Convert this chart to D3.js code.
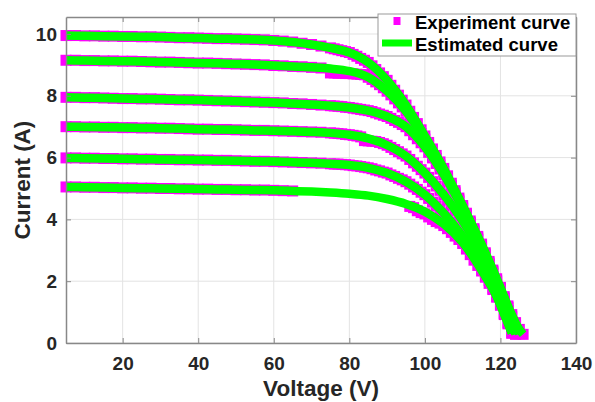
<!DOCTYPE html>
<html>
<head>
<meta charset="utf-8">
<title>IV curves</title>
<script src="https://d3js.org/d3.v7.min.js"></script>
<style>
  body { margin: 0; background: #fff; }
  text { font-family: "Liberation Sans", Arial, sans-serif; font-weight: bold; }
</style>
</head>
<body>
<svg width="595" height="402" id="mainsvg"></svg>
<script>
// measured points (magenta markers), shared voltage grid
const expVoltage = [5, 7.5, 10, 12.5, 15, 17.5, 20, 22.5, 25, 27.5,
    30, 32.5, 35, 37.5, 40, 42.5, 45, 47.5, 50, 52.5,
    55, 57.5, 60, 62.5, 65, 67.5, 70, 72.5, 75,
    76, 77, 78, 79, 80, 81, 82, 83, 84, 85,
    86, 87, 88, 89, 90, 91, 92, 93, 94, 95,
    96, 97, 98, 99, 100, 101, 102, 103, 104, 105,
    106, 107, 108, 109, 110, 111, 112, 113, 114, 115,
    116, 117, 118, 119, 120, 121, 122, 123, 124, 125,
    126];

const expCurrentA = [9.95, 9.95, 9.94, 9.94, 9.93, 9.93, 9.92, 9.92, 9.91, 9.91,
    9.90, 9.89, 9.88, 9.88, 9.87, 9.86, 9.85, 9.85, 9.84, 9.83,
    9.82, 9.81, 9.79, 9.77, 9.74, 9.70, 9.66, 9.61, 9.55,
    9.52, 9.49, 9.46, 9.43, 9.40, 9.34, 9.28, 9.21, 9.15, 9.08,
    8.97, 8.85, 8.74, 8.62, 8.50, 8.34, 8.18, 8.02, 7.86, 7.70,
    7.50, 7.30, 7.10, 6.90, 6.70, 6.49, 6.28, 6.07, 5.86, 5.65,
    5.41, 5.17, 4.93, 4.69, 4.45, 4.20, 3.95, 3.70, 3.45, 3.20,
    2.92, 2.64, 2.36, 2.08, 1.80, 1.50, 1.20, 0.92, 0.66, 0.44,
    0.28];

const expCurrentB = [9.15, 9.15, 9.14, 9.14, 9.13, 9.13, 9.12, 9.12, 9.11, 9.10,
    9.09, 9.09, 9.08, 9.07, 9.06, 9.06, 9.05, 9.04, 9.03, 9.02,
    9.01, 9.00, 8.98, 8.97, 8.95, 8.94, 8.92, 8.90, 8.74,
    8.74, 8.73, 8.73, 8.72, 8.72, 8.71, 8.70, 8.69, 8.68, 8.60,
    8.53, 8.45, 8.36, 8.26, 8.15, 8.03, 7.90, 7.77, 7.64, 7.50,
    7.32, 7.14, 6.96, 6.78, 6.60, 6.39, 6.18, 5.97, 5.76, 5.55,
    5.32, 5.09, 4.86, 4.63, 4.40, 4.15, 3.90, 3.65, 3.40, 3.15,
    2.87, 2.59, 2.31, 2.03, 1.75, 1.45, 1.15, 0.85, 0.57, 0.30,
    null];

const expCurrentC = [7.95, 7.95, 7.94, 7.94, 7.93, 7.92, 7.91, 7.91, 7.90, 7.90,
    7.89, 7.88, 7.87, 7.87, 7.86, 7.85, 7.84, 7.83, 7.82, 7.81,
    7.80, 7.79, 7.78, 7.77, 7.75, 7.74, 7.72, 7.70, 7.68,
    7.67, 7.66, 7.65, 7.63, 7.62, 7.60, 7.58, 7.56, 7.54, 7.52,
    7.49, 7.45, 7.41, 7.37, 7.33, 7.27, 7.20, 7.14, 7.07, 7.00,
    6.87, 6.74, 6.61, 6.48, 6.35, 6.17, 5.99, 5.81, 5.63, 5.45,
    5.23, 5.01, 4.79, 4.57, 4.35, 4.10, 3.85, 3.60, 3.35, 3.10,
    2.82, 2.54, 2.26, 1.98, 1.70, 1.36, 1.02, 0.66, 0.30, null,
    null];

const expCurrentD = [7.00, 7.00, 6.99, 6.99, 6.98, 6.98, 6.97, 6.97, 6.96, 6.96,
    6.95, 6.95, 6.94, 6.93, 6.92, 6.92, 6.91, 6.91, 6.90, 6.89,
    6.88, 6.88, 6.87, 6.86, 6.85, 6.84, 6.83, 6.82, 6.80,
    6.79, 6.78, 6.77, 6.75, 6.74, 6.72, 6.70, 6.67, 6.55, 6.54,
    6.53, 6.52, 6.49, 6.45, 6.40, 6.33, 6.26, 6.19, 6.12, 6.05,
    5.94, 5.83, 5.72, 5.61, 5.50, 5.36, 5.22, 5.08, 4.94, 4.80,
    4.63, 4.46, 4.29, 4.12, 3.95, 3.74, 3.53, 3.32, 3.11, 2.90,
    2.65, 2.40, 2.15, 1.90, 1.65, 1.35, 1.05, 0.70, 0.28, null,
    null];

const expCurrentE = [5.99, 5.99, 5.98, 5.98, 5.97, 5.97, 5.96, 5.96, 5.95, 5.95,
    5.94, 5.94, 5.93, 5.93, 5.92, 5.92, 5.91, 5.91, 5.90, 5.89,
    5.88, 5.88, 5.87, 5.86, 5.85, 5.84, 5.83, 5.82, 5.80,
    5.79, 5.79, 5.78, 5.77, 5.76, 5.74, 5.73, 5.71, 5.69, 5.67,
    5.64, 5.60, 5.57, 5.53, 5.50, 5.44, 5.39, 5.33, 5.28, 5.22,
    5.14, 5.05, 4.97, 4.88, 4.80, 4.68, 4.56, 4.44, 4.32, 4.20,
    4.05, 3.90, 3.75, 3.60, 3.45, 3.27, 3.09, 2.91, 2.73, 2.55,
    2.28, 2.02, 1.75, 1.49, 1.22, 0.92, 0.62, 0.32, null, null,
    null];

const expCurrentF = [5.05, 5.05, 5.04, 5.04, 5.03, 5.03, 5.02, 5.02, 5.01, 5.01,
    5.00, 5.00, 4.99, 4.99, 4.98, 4.98, 4.97, 4.97, 4.96, 4.96,
    4.95, 4.95, 4.94, 4.93, 4.92, null, null, null, null,
    null, null, null, null, null, null, null, null, null, null,
    null, null, null, null, null, null, null, null, null, null,
    4.42, 4.38, 4.28, 4.22, 4.18, 4.08, 4.00, 3.93, 3.88, 3.80,
    3.70, 3.58, 3.46, 3.35, 3.22, 3.04, 2.86, 2.68, 2.51, 2.33,
    2.13, 1.93, 1.73, 1.49, 1.25, 0.95, 0.65, 0.32, null, null,
    null];

// fitted model (green lines)
const estVoltage = [5, 10, 15, 20, 25, 30, 35, 40, 45, 50, 55, 60,
    65, 70, 75, 80, 85, 90, 95, 100, 105, 110, 115, 120,
    121, 122, 123, 124, 125, 126];

const estCurrentA = [9.95, 9.94, 9.93, 9.92, 9.91, 9.90, 9.88, 9.87, 9.85, 9.84, 9.82, 9.79,
    9.74, 9.66, 9.55, 9.40, 9.08, 8.50, 7.70, 6.70, 5.65, 4.45, 3.20, 1.80,
    1.50, 1.20, 0.92, 0.66, 0.44, 0.28];
const estCurrentB = [9.15, 9.14, 9.13, 9.12, 9.11, 9.09, 9.08, 9.06, 9.05, 9.03, 9.01, 8.98,
    8.95, 8.92, 8.88, 8.80, 8.60, 8.15, 7.50, 6.60, 5.55, 4.40, 3.15, 1.75,
    1.45, 1.15, 0.85, 0.57, 0.30, null];
const estCurrentC = [7.95, 7.94, 7.93, 7.91, 7.90, 7.89, 7.87, 7.86, 7.84, 7.82, 7.80, 7.78,
    7.75, 7.72, 7.68, 7.62, 7.52, 7.33, 7.00, 6.35, 5.45, 4.35, 3.10, 1.70,
    1.36, 1.02, 0.66, 0.30, null, null];
const estCurrentD = [7.00, 6.99, 6.98, 6.97, 6.96, 6.95, 6.94, 6.92, 6.91, 6.90, 6.88, 6.87,
    6.85, 6.83, 6.80, 6.74, 6.62, 6.40, 6.05, 5.50, 4.80, 3.95, 2.90, 1.65,
    1.35, 1.05, 0.70, 0.28, null, null];
const estCurrentE = [5.99, 5.98, 5.97, 5.96, 5.95, 5.94, 5.93, 5.92, 5.91, 5.90, 5.88, 5.87,
    5.85, 5.83, 5.80, 5.76, 5.67, 5.50, 5.22, 4.80, 4.20, 3.45, 2.55, 1.22,
    0.92, 0.62, 0.32, null, null, null];
const estCurrentF = [5.05, 5.04, 5.03, 5.02, 5.01, 5.00, 4.99, 4.98, 4.97, 4.96, 4.95, 4.94,
    4.92, 4.90, 4.87, 4.83, 4.77, 4.66, 4.50, 4.25, 3.85, 3.25, 2.35, 1.25,
    0.95, 0.65, 0.32, null, null, null];

const xTicks = [20, 40, 60, 80, 100, 120, 140];
const yTicks = [0, 2, 4, 6, 8, 10];
const legendLabels = ['Experiment curve', 'Estimated curve'];

const expSeries = [expCurrentA, expCurrentB, expCurrentC, expCurrentD, expCurrentE, expCurrentF];
const estSeries = [estCurrentA, estCurrentB, estCurrentC, estCurrentD, estCurrentE, estCurrentF];

const svg = d3.select('#mainsvg');
const width = +svg.attr('width');
const height = +svg.attr('height');
const margin = { top: 17, right: 19, bottom: 59, left: 66 };
const innerWidth = width - margin.left - margin.right;
const innerHeight = height - margin.top - margin.bottom;

svg.append('rect').attr('width', width).attr('height', height).attr('fill', '#fff');

const g = svg.append('g').attr('id', 'maingroup')
    .attr('transform', `translate(${margin.left}, ${margin.top})`);

const xScale = d3.scaleLinear().domain([5, 140]).range([0, innerWidth]);
const yScale = d3.scaleLinear().domain([0, 10.55]).range([innerHeight, 0]);

// grid
g.append('g').selectAll('line').data(xTicks).join('line')
    .attr('x1', d => xScale(d)).attr('x2', d => xScale(d))
    .attr('y1', 0).attr('y2', innerHeight)
    .attr('stroke', '#e3e3e3').attr('stroke-width', 1);
g.append('g').selectAll('line').data(yTicks).join('line')
    .attr('x1', 0).attr('x2', innerWidth)
    .attr('y1', d => yScale(d)).attr('y2', d => yScale(d))
    .attr('stroke', '#e3e3e3').attr('stroke-width', 1);

// experiment markers
const markerSize = 11;
expSeries.forEach(series => {
    const pts = expVoltage.map((v, i) => [v, series[i]]).filter(d => d[1] != null);
    g.append('g').selectAll('rect').data(pts).join('rect')
        .attr('x', d => xScale(d[0]) - markerSize / 2)
        .attr('y', d => yScale(d[1]) - markerSize / 2)
        .attr('width', markerSize)
        .attr('height', markerSize)
        .attr('fill', '#ff00ff');
});

// estimated curves
const line = d3.line()
    .defined(d => d[1] != null)
    .x(d => xScale(d[0]))
    .y(d => yScale(d[1]))
    .curve(d3.curveMonotoneX);
estSeries.forEach(series => {
    g.append('path')
        .datum(estVoltage.map((v, i) => [v, series[i]]))
        .attr('d', line)
        .attr('fill', 'none')
        .attr('stroke', '#00ff00')
        .attr('stroke-width', 8.5)
        .attr('stroke-linejoin', 'round');
});

// axes (ticks point inward like matlab)
const styleAxis = sel => {
    sel.select('.domain').attr('stroke', '#888').attr('stroke-width', 1.5);
    sel.selectAll('.tick line').attr('stroke', '#888').attr('stroke-width', 1);
    sel.selectAll('.tick text').attr('fill', '#262626').attr('font-size', 19)
        .attr('font-family', '"Liberation Sans", Arial, sans-serif').attr('font-weight', 'bold');
};
g.append('g').attr('transform', `translate(0, ${innerHeight})`)
    .call(d3.axisBottom(xScale).tickValues(xTicks).tickSizeInner(-5).tickSizeOuter(0).tickPadding(14))
    .call(styleAxis);
g.append('g')
    .call(d3.axisLeft(yScale).tickValues(yTicks).tickSizeInner(-5).tickSizeOuter(0).tickPadding(9))
    .call(styleAxis);
// box: top and right sides, ticks only
g.append('g')
    .call(d3.axisTop(xScale).tickValues(xTicks).tickSizeInner(-5).tickSizeOuter(0))
    .call(styleAxis)
    .selectAll('text').remove();
g.append('g').attr('transform', `translate(${innerWidth}, 0)`)
    .call(d3.axisRight(yScale).tickValues(yTicks).tickSizeInner(-5).tickSizeOuter(0))
    .call(styleAxis)
    .selectAll('text').remove();

// axis titles
svg.append('text')
    .text('Voltage (V)')
    .attr('x', margin.left + innerWidth / 2)
    .attr('y', 396)
    .attr('text-anchor', 'middle')
    .attr('font-size', 22.5)
    .attr('fill', '#262626');
svg.append('text')
    .text('Current (A)')
    .attr('transform', `translate(30, ${margin.top + innerHeight / 2}) rotate(-90)`)
    .attr('text-anchor', 'middle')
    .attr('font-size', 22.5)
    .attr('fill', '#262626');

// legend
const legend = svg.append('g').attr('transform', 'translate(378, 14)');
legend.append('rect')
    .attr('width', 198).attr('height', 42)
    .attr('fill', '#fff').attr('stroke', '#999').attr('stroke-width', 1);
legend.append('rect')
    .attr('x', 15.5).attr('y', 3).attr('width', 7).attr('height', 8)
    .attr('fill', '#ff00ff');
legend.append('line')
    .attr('x1', 4).attr('x2', 34).attr('y1', 29).attr('y2', 29)
    .attr('stroke', '#00ff00').attr('stroke-width', 7);
legend.selectAll('text.lbl').data(legendLabels).join('text')
    .attr('class', 'lbl')
    .text(d => d)
    .attr('x', 37)
    .attr('y', (d, i) => 14.5 + i * 22)
    .attr('font-size', 18.5)
    .attr('fill', '#000');
</script>
</body>
</html>
